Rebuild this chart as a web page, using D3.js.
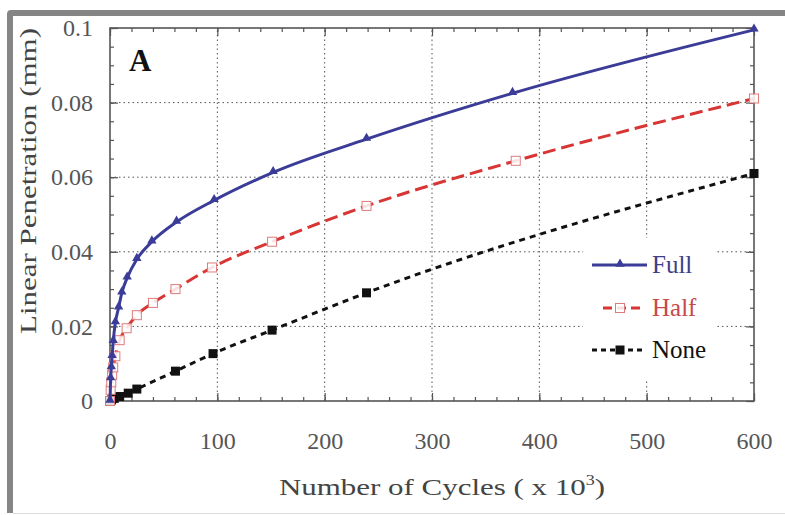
<!DOCTYPE html>
<html>
<head>
<meta charset="utf-8">
<script src="https://cdn.jsdelivr.net/npm/d3@7"></script>
<style>
  body { margin: 0; background: #fff; }
  svg { display: block; }
  text { font-family: "Liberation Serif", "Times New Roman", serif; }
</style>
</head>
<body>
<svg id="chart" width="785" height="515"></svg>
<script>
// values (cycles x 10^3, penetration in mm)
var fullX = [0, 0.6, 1.2, 2, 3, 5, 8, 11, 16, 25, 39, 62, 97, 152, 239, 375, 600];
var fullY = [0, 0.006, 0.009, 0.012, 0.016, 0.021, 0.025, 0.029, 0.033, 0.038, 0.0427, 0.048, 0.0538, 0.0613, 0.0702, 0.0825, 0.0995];

var halfX = [0, 0.6, 1.2, 2, 3, 5, 9, 15.5, 25, 40, 61, 95, 151, 239, 378, 600];
var halfY = [0, 0.003, 0.005, 0.007, 0.009, 0.012, 0.0163, 0.0195, 0.023, 0.0263, 0.030, 0.0358, 0.0427, 0.0523, 0.0644, 0.0811];

var noneX = [0, 1.5, 4, 9, 17, 25, 61, 96, 151, 239, 600];
var noneY = [0, 0.0003, 0.0007, 0.0012, 0.0021, 0.0032, 0.0080, 0.0127, 0.019, 0.029, 0.061];

var xTicks = [0, 100, 200, 300, 400, 500, 600];
var xTickLabels = ["0", "100", "200", "300", "400", "500", "600"];
var yTicks = [0, 0.02, 0.04, 0.06, 0.08, 0.1];
var yTickLabels = ["0", "0.02", "0.04", "0.06", "0.08", "0.1"];
var legendLabels = ["Full", "Half", "None"];

var svg = d3.select("#chart");
var pLeft = 110, pRight = 754, pTop = 28, pBottom = 401;

var x = d3.scaleLinear().domain([0, 600]).range([pLeft, pRight]);
var y = d3.scaleLinear().domain([0, 0.1]).range([pBottom, pTop]);

// gray frame round the figure
svg.append("path")
    .attr("d", "M7,513 L7,14 Q7,10 11,10 L785,10 L785,16 L13,16 L13,513 Z")
    .attr("fill", "#858585");
svg.append("line")
    .attr("x1", 13).attr("x2", 785).attr("y1", 513.5).attr("y2", 513.5)
    .attr("stroke", "#ddd").attr("stroke-width", 1);

// dotted grid at the major ticks
svg.append("g").selectAll("line")
    .data(xTicks.slice(1, -1)).enter()
    .append("line")
    .attr("x1", function(d) { return x(d); })
    .attr("x2", function(d) { return x(d); })
    .attr("y1", y(0)).attr("y2", y(0.1))
    .attr("stroke", "#555").attr("stroke-width", 1)
    .attr("stroke-dasharray", "1.5,3");
svg.append("g").selectAll("line")
    .data(yTicks.slice(1, -1)).enter()
    .append("line")
    .attr("y1", function(d) { return y(d); })
    .attr("y2", function(d) { return y(d); })
    .attr("x1", x(0)).attr("x2", x(600))
    .attr("stroke", "#555").attr("stroke-width", 1)
    .attr("stroke-dasharray", "1.5,3");

// white box behind the legend hides the grid
svg.append("rect")
    .attr("x", 583).attr("y", 238).attr("width", 134).attr("height", 142)
    .attr("fill", "#fff");

// axes, ticks pointing inward on all four sides
var xMinor = d3.range(0, 601, 20);
var yMinor = d3.range(0, 0.1001, 0.005);

function styleAxis(g) {
    g.select(".domain").remove();
    g.selectAll(".tick line").attr("stroke", "#555").attr("stroke-width", 1.2);
    g.selectAll(".tick text")
        .attr("fill", "#555")
        .style("font-size", "24px")
        .style("font-family", "'Liberation Serif', serif");
}

svg.append("g").attr("transform", "translate(0," + pBottom + ")")
    .call(d3.axisBottom(x).tickValues(xMinor).tickSize(-4).tickSizeOuter(0).tickFormat(""))
    .call(styleAxis);
svg.append("g").attr("transform", "translate(0," + pBottom + ")")
    .call(d3.axisBottom(x).tickValues(xTicks).tickSize(-8).tickSizeOuter(0).tickPadding(31)
        .tickFormat(function(d, i) { return xTickLabels[i]; }))
    .call(styleAxis);
svg.append("g").attr("transform", "translate(0," + pTop + ")")
    .call(d3.axisTop(x).tickValues(xMinor).tickSize(-4).tickSizeOuter(0).tickFormat(""))
    .call(styleAxis);
svg.append("g").attr("transform", "translate(0," + pTop + ")")
    .call(d3.axisTop(x).tickValues(xTicks).tickSize(-8).tickSizeOuter(0).tickFormat(""))
    .call(styleAxis);

svg.append("g").attr("transform", "translate(" + pLeft + ",0)")
    .call(d3.axisLeft(y).tickValues(yMinor).tickSize(-4).tickSizeOuter(0).tickFormat(""))
    .call(styleAxis);
svg.append("g").attr("transform", "translate(" + pLeft + ",0)")
    .call(d3.axisLeft(y).tickValues(yTicks).tickSize(-8).tickSizeOuter(0).tickPadding(17)
        .tickFormat(function(d, i) { return yTickLabels[i]; }))
    .call(styleAxis);
svg.append("g").attr("transform", "translate(" + pRight + ",0)")
    .call(d3.axisRight(y).tickValues(yMinor).tickSize(-4).tickSizeOuter(0).tickFormat(""))
    .call(styleAxis);
svg.append("g").attr("transform", "translate(" + pRight + ",0)")
    .call(d3.axisRight(y).tickValues(yTicks).tickSize(-8).tickSizeOuter(0).tickFormat(""))
    .call(styleAxis);

svg.append("rect")
    .attr("x", pLeft).attr("y", pTop)
    .attr("width", pRight - pLeft).attr("height", pBottom - pTop)
    .attr("fill", "none").attr("stroke", "#555").attr("stroke-width", 1.6);

// series
var series = [
    { name: "None", xs: noneX, ys: noneY, color: "#111", dash: "6,5", marker: "fsquare", text: "#111" },
    { name: "Half", xs: halfX, ys: halfY, color: "#d83535", dash: "13,6", marker: "osquare", text: "#c84848" },
    { name: "Full", xs: fullX, ys: fullY, color: "#3a3c98", dash: null, marker: "triangle", text: "#3d3f88" }
];

var line = d3.line()
    .x(function(d) { return x(d[0]); })
    .y(function(d) { return y(d[1]); })
    .curve(d3.curveMonotoneX);

function drawMarker(g, kind, cx, cy) {
    if (kind == "triangle") {
        g.append("path")
            .attr("d", d3.symbol().type(d3.symbolTriangle).size(38)())
            .attr("transform", "translate(" + cx + "," + (cy - 1) + ")")
            .attr("fill", "#3a3c98");
    } else if (kind == "osquare") {
        g.append("rect")
            .attr("x", cx - 4.5).attr("y", cy - 4.5).attr("width", 9).attr("height", 9)
            .attr("fill", "#fff").attr("fill-opacity", 0.85)
            .attr("stroke", "#e07a7a").attr("stroke-width", 1);
    } else {
        g.append("rect")
            .attr("x", cx - 4.5).attr("y", cy - 4.5).attr("width", 9).attr("height", 9)
            .attr("fill", "#111");
    }
}

series.forEach(function(s) {
    var pts = s.xs.map(function(v, i) { return [v, s.ys[i]]; });
    var path = svg.append("path")
        .datum(pts)
        .attr("d", line)
        .attr("fill", "none")
        .attr("stroke", s.color)
        .attr("stroke-width", 3);
    if (s.dash) path.attr("stroke-dasharray", s.dash);
    var g = svg.append("g");
    pts.forEach(function(p) { drawMarker(g, s.marker, x(p[0]), y(p[1])); });
});

// legend
var legendRows = [
    { s: series[2], ly: 265, x1: 592, x2: 647 },
    { s: series[1], ly: 308, x1: 603, x2: 645 },
    { s: series[0], ly: 350, x1: 592, x2: 646 }
];
legendRows.forEach(function(r, i) {
    var g = svg.append("g");
    var l = g.append("line")
        .attr("x1", r.x1).attr("x2", r.x2).attr("y1", r.ly).attr("y2", r.ly)
        .attr("stroke", r.s.color).attr("stroke-width", 3);
    if (r.s.dash) l.attr("stroke-dasharray", r.s.name == "Half" ? "9,5" : "5,4");
    drawMarker(g, r.s.marker, 620, r.ly);
    g.append("text")
        .attr("x", 652).attr("y", r.ly + 8)
        .attr("fill", r.s.text)
        .style("font-size", "25px")
        .text(legendLabels[i]);
});

// panel letter
svg.append("text")
    .attr("x", 129).attr("y", 71)
    .style("font-size", "31px").style("font-weight", "bold")
    .attr("fill", "#111")
    .text("A");

// axis titles (the picture is stretched sideways, so the text is too)
var xt = svg.append("text")
    .attr("transform", "translate(442,495) scale(1.29,1)")
    .attr("text-anchor", "middle")
    .attr("fill", "#444")
    .style("font-size", "24px");
xt.append("tspan").text("Number of Cycles ( x 10");
xt.append("tspan").attr("dy", -10).style("font-size", "14px").text("3");
xt.append("tspan").attr("dy", 10).text(")");

svg.append("text")
    .attr("transform", "translate(36,181) rotate(-90) scale(1.29,1)")
    .attr("text-anchor", "middle")
    .attr("fill", "#444")
    .style("font-size", "24px")
    .text("Linear Penetration (mm)");
</script>
</body>
</html>
